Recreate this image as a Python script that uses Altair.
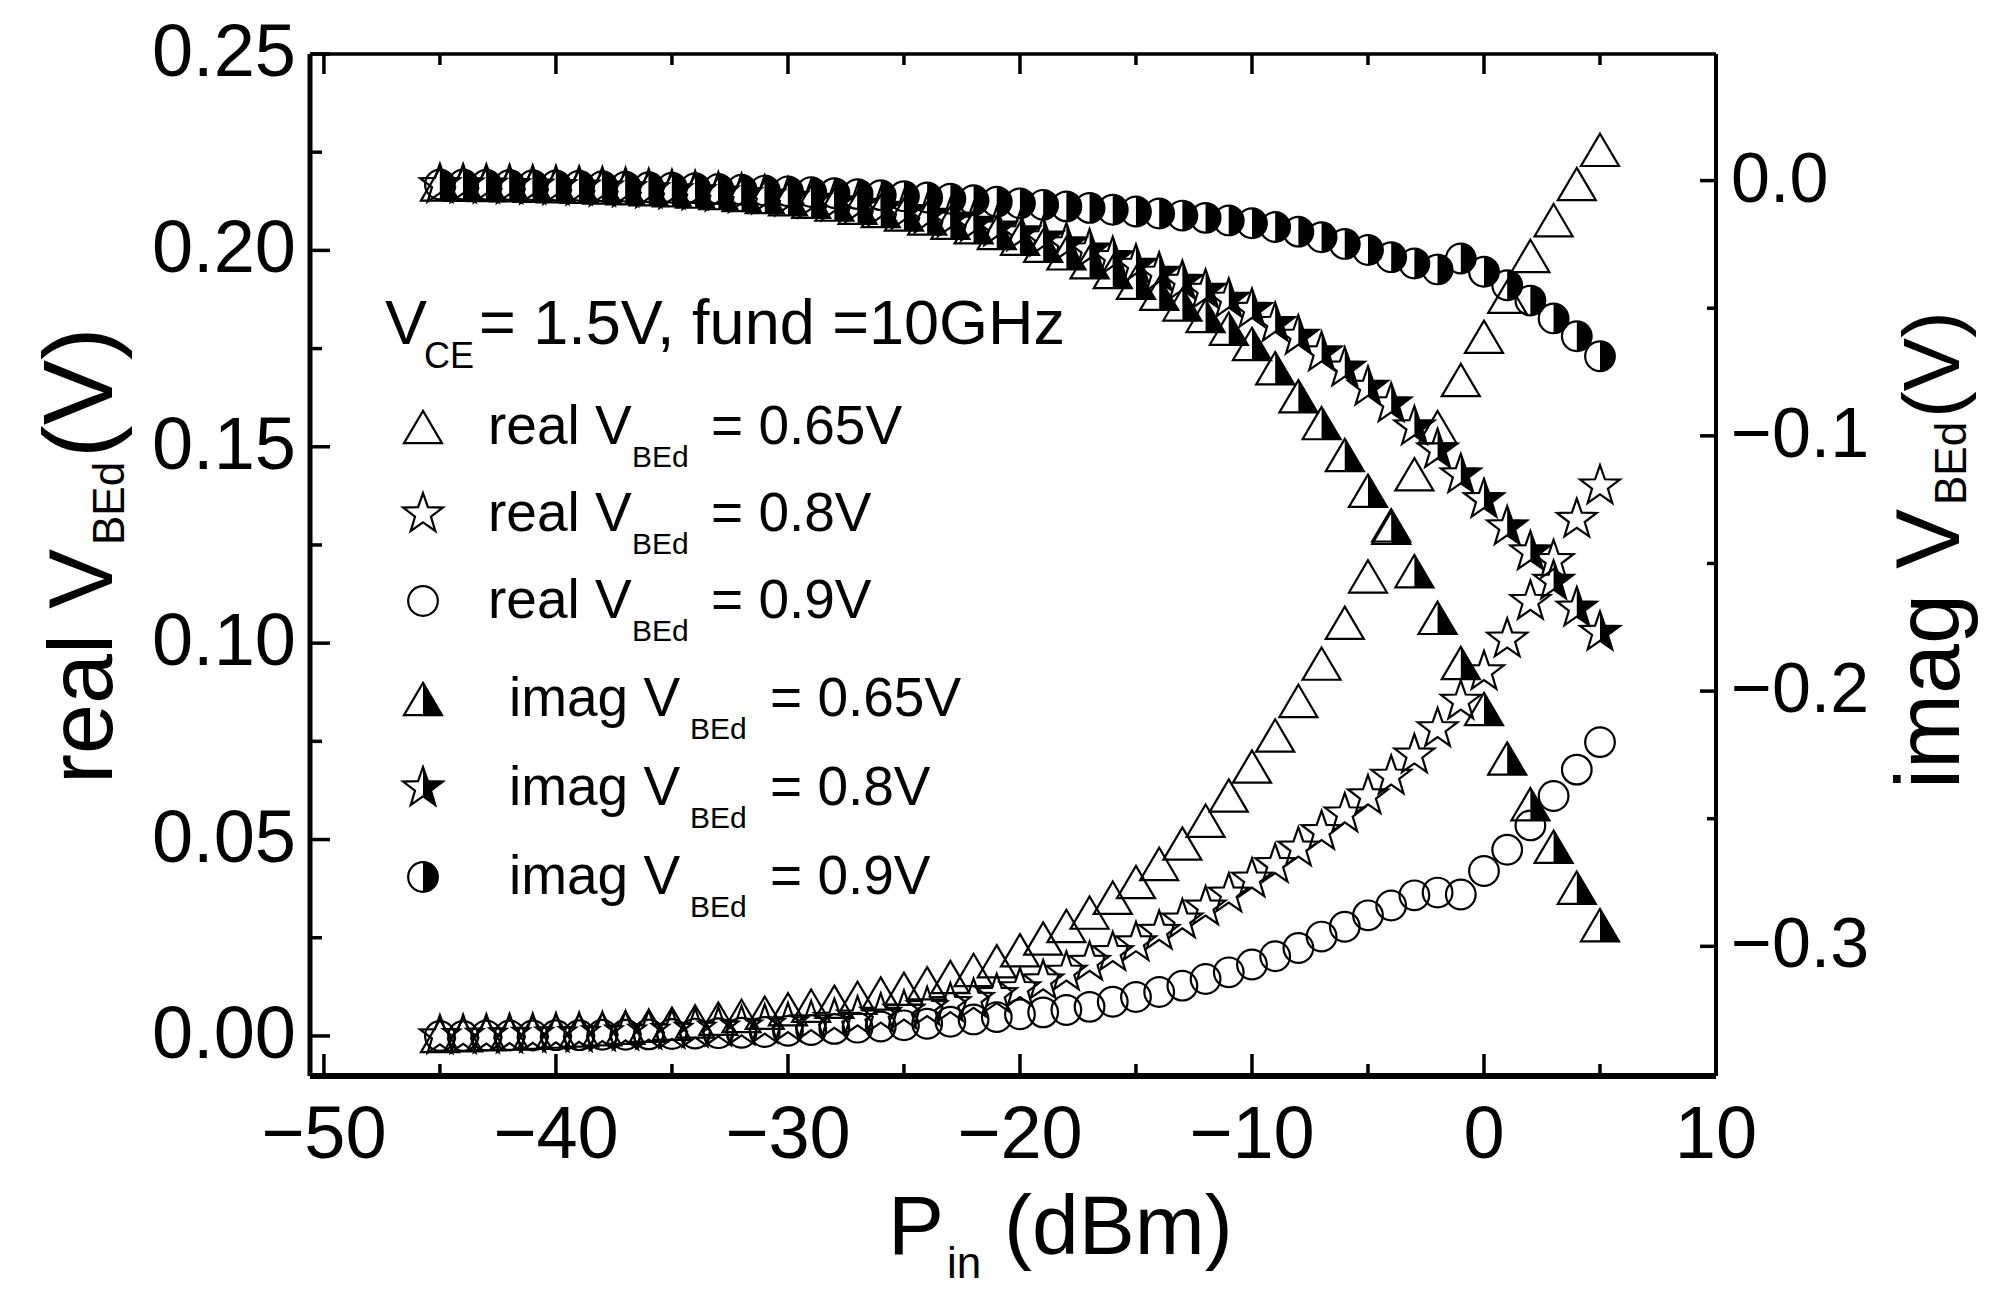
import altair as alt
import pandas as pd

# ---------------- data ----------------
P = list(range(-45, 6))

real_065 = [0.0000, 0.0002, 0.0004, 0.0006, 0.0008, 0.0011, 0.0014, 0.0017, 0.0021, 0.0026,
            0.0031, 0.0037, 0.0044, 0.0051, 0.0059, 0.0068, 0.0077, 0.0087, 0.0097, 0.0108,
            0.0120, 0.0134, 0.0150, 0.0168, 0.0190, 0.0218, 0.0248, 0.0280, 0.0314, 0.0352,
            0.0392, 0.0438, 0.0490, 0.0548, 0.0612, 0.0686, 0.0765, 0.0853, 0.0948, 0.1052,
            0.1170, 0.1300, 0.1430, 0.1550, 0.1670, 0.1780, 0.1882, 0.1986, 0.2077, 0.2169,
            0.2256]

real_08 = [0.0000, 0.0001, 0.0002, 0.0003, 0.0004, 0.0005, 0.0006, 0.0008, 0.0010, 0.0012,
           0.0014, 0.0017, 0.0020, 0.0023, 0.0027, 0.0031, 0.0036, 0.0042, 0.0048, 0.0055,
           0.0063, 0.0072, 0.0082, 0.0093, 0.0105, 0.0120, 0.0140, 0.0162, 0.0187, 0.0212,
           0.0237, 0.0266, 0.0295, 0.0328, 0.0361, 0.0399, 0.0436, 0.0478, 0.0520, 0.0565,
           0.0611, 0.0661, 0.0715, 0.0782, 0.0852, 0.0927, 0.1010, 0.1106, 0.1210, 0.1315,
           0.1400]

real_09 = [0.0000, 0.0000, 0.0001, 0.0001, 0.0001, 0.0002, 0.0002, 0.0003, 0.0003, 0.0004,
           0.0005, 0.0006, 0.0007, 0.0008, 0.0010, 0.0013, 0.0015, 0.0018, 0.0021, 0.0024,
           0.0027, 0.0031, 0.0036, 0.0042, 0.0048, 0.0055, 0.0060, 0.0066, 0.0074, 0.0087,
           0.0099, 0.0112, 0.0128, 0.0145, 0.0162, 0.0182, 0.0203, 0.0224, 0.0253, 0.0278,
           0.0307, 0.0332, 0.0358, 0.0365, 0.0360, 0.0420, 0.0474, 0.0536, 0.0611, 0.0678,
           0.0748]

imag_065 = [-0.0015, -0.0016, -0.0017, -0.0018, -0.0020, -0.0022, -0.0024, -0.0027, -0.0030, -0.0034,
            -0.0038, -0.0043, -0.0049, -0.0056, -0.0064, -0.0073, -0.0083, -0.0094, -0.0106, -0.0119,
            -0.0133, -0.0148, -0.0165, -0.0183, -0.0205, -0.0228, -0.0255, -0.0285, -0.0320, -0.0358,
            -0.0400, -0.0443, -0.0485, -0.0530, -0.0580, -0.0640, -0.0735, -0.0845, -0.0950, -0.1075,
            -0.1215, -0.1360, -0.1530, -0.1713, -0.1890, -0.2070, -0.2264, -0.2443, -0.2610, -0.2770,
            -0.2917]

imag_08 = [-0.0016, -0.0017, -0.0018, -0.0020, -0.0022, -0.0024, -0.0026, -0.0029, -0.0032, -0.0036,
           -0.0040, -0.0044, -0.0049, -0.0055, -0.0061, -0.0069, -0.0077, -0.0087, -0.0097, -0.0109,
           -0.0122, -0.0136, -0.0151, -0.0168, -0.0186, -0.0205, -0.0225, -0.0248, -0.0272, -0.0302,
           -0.0332, -0.0363, -0.0395, -0.0430, -0.0465, -0.0505, -0.0560, -0.0610, -0.0675, -0.0735,
           -0.0810, -0.0875, -0.0965, -0.1055, -0.1153, -0.1250, -0.1357, -0.1455, -0.1570, -0.1675,
           -0.1770]

imag_09 = [-0.0015, -0.0015, -0.0016, -0.0017, -0.0018, -0.0019, -0.0020, -0.0022, -0.0024, -0.0026,
           -0.0028, -0.0030, -0.0033, -0.0036, -0.0039, -0.0042, -0.0045, -0.0049, -0.0053, -0.0057,
           -0.0061, -0.0066, -0.0071, -0.0077, -0.0083, -0.0089, -0.0095, -0.0101, -0.0107, -0.0114,
           -0.0121, -0.0129, -0.0137, -0.0146, -0.0156, -0.0167, -0.0182, -0.0200, -0.0222, -0.0248,
           -0.0272, -0.0300, -0.0325, -0.0348, -0.0305, -0.0357, -0.0410, -0.0470, -0.0540, -0.0610,
           -0.0688]

x_major = [-50, -40, -30, -20, -10, 0, 10]
x_minor = [-45, -35, -25, -15, -5, 5]
yl_major = [0.0, 0.05, 0.10, 0.15, 0.20, 0.25]
yl_minor = [0.025, 0.075, 0.125, 0.175, 0.225]
yr_major = [0.0, -0.1, -0.2, -0.3]
yr_minor = [-0.05, -0.15, -0.25]

# ---------------- layout / style ----------------
W, H = 1406, 1022
FONT = "Liberation Sans"
xs = alt.Scale(domain=[-50.6, 10], nice=False, zero=False)
yls = alt.Scale(domain=[-0.0102, 0.25], nice=False, zero=False)
yrs = alt.Scale(domain=[-0.3508, 0.0496], nice=False, zero=False)

TRI = "M0,-0.85L1,0.85L-1,0.85Z"
TRI_R = "M0,-0.85L1,0.85L0,0.85Z"
CIR = "M-1,0A1,1,0,1,1,1,0A1,1,0,1,1,-1,0Z"
CIR_R = "M0,-1A1,1,0,0,1,0,1Z"
STAR = ("M0,-1L0.235,-0.324L0.951,-0.309L0.38,0.124L0.588,0.809L0,0.4"
        "L-0.588,0.809L-0.38,0.124L-0.951,-0.309L-0.235,-0.324Z")
STAR_R = "M0,-1L0.235,-0.324L0.951,-0.309L0.38,0.124L0.588,0.809L0,0.4Z"
SZ = {"tri": 1444, "cir": 880, "star": 1750}

dummy = pd.DataFrame({"d": [0]})


def sdf(vals):
    return pd.DataFrame({"P": P, "v": vals})


def pts(df, shape, size, yscale, filled=False):
    return alt.Chart(df).mark_point(
        shape=shape, size=size, filled=filled, color="black",
        strokeWidth=2.2, opacity=1
    ).encode(
        x=alt.X("P:Q", scale=xs, axis=None),
        y=alt.Y("v:Q", scale=yscale, axis=None),
    )


def txt(s, cx, cy, size, angle=None):
    kw = dict(text=s, font=FONT, fontSize=size, align="left",
              baseline="alphabetic", color="black")
    if angle is not None:
        kw["angle"] = angle
    return alt.Chart(dummy).mark_text(**kw).encode(x=alt.value(cx), y=alt.value(cy))


def sym(shape, size, cx, cy, filled=False):
    return alt.Chart(dummy).mark_point(
        shape=shape, size=size, filled=filled, color="black",
        strokeWidth=2.2, opacity=1
    ).encode(x=alt.value(cx), y=alt.value(cy))


def frame(x, x2, y, y2, w):
    return alt.Chart(dummy).mark_rule(color="black", strokeWidth=w).encode(
        x=alt.value(x), x2=alt.value(x2), y=alt.value(y), y2=alt.value(y2))


def xticks(vals, y, y2):
    return alt.Chart(pd.DataFrame({"P": vals})).mark_rule(color="black", strokeWidth=3.5).encode(
        x=alt.X("P:Q", scale=xs, axis=None), y=alt.value(y), y2=alt.value(y2))


def yticks(vals, yscale, x, x2):
    return alt.Chart(pd.DataFrame({"v": vals})).mark_rule(color="black", strokeWidth=3.5).encode(
        y=alt.Y("v:Q", scale=yscale, axis=None), x=alt.value(x), x2=alt.value(x2))


# tick labels drawn through the scales
x_labels = alt.Chart(pd.DataFrame({"P": x_major})).mark_text(
    font=FONT, fontSize=74, align="center", baseline="middle", color="black"
).encode(x=alt.X("P:Q", scale=xs, axis=None), y=alt.value(H + 60),
         text=alt.Text("P:Q", format="d"))

yl_labels = alt.Chart(pd.DataFrame({"v": yl_major})).mark_text(
    font=FONT, fontSize=74, align="right", baseline="middle", color="black"
).encode(y=alt.Y("v:Q", scale=yls, axis=None), x=alt.value(-14),
         text=alt.Text("v:Q", format=".2f"))

yr_labels = alt.Chart(pd.DataFrame({"v": yr_major})).mark_text(
    font=FONT, fontSize=70, align="left", baseline="middle", color="black"
).encode(y=alt.Y("v:Q", scale=yrs, axis=None), x=alt.value(W + 15),
         text=alt.Text("v:Q", format=".1f"))

# ---------------- left (real) group ----------------
left_layers = [
    pts(sdf(real_065), TRI, SZ["tri"], yls),
    pts(sdf(real_08), STAR, SZ["star"], yls),
    pts(sdf(real_09), CIR, SZ["cir"], yls),
    x_labels, yl_labels,
    # ticks (inward)
    xticks(x_major, H, H - 22), xticks(x_minor, H, H - 12),
    xticks(x_major, 0, 20), xticks(x_minor, 0, 11),
    yticks(yl_major, yls, 0, 20), yticks(yl_minor, yls, 0, 12),
    # frame
    frame(0, 0, 0, H, 5), frame(W, W, 0, H, 4),
    frame(0, W, 0, 0, 3.5), frame(0, W, H, H, 6),
    # axis titles
    txt("real V", -198, 730, 90, 270), txt("BEd", -186, 491, 44, 270), txt("(V)", -198, 404, 98, 270),
    txt("imag V", 1649, 735, 90, 270), txt("BEd", 1656, 451, 44, 270), txt("(V)", 1649, 364, 80, 270),
    txt("P", 578, 1200, 84), txt("in", 637, 1224, 44), txt("(dBm)", 694, 1200, 84),
    # legend title
    txt("V", 75, 290, 63), txt("CE", 114, 314, 36), txt("= 1.5V, fund =10GHz", 169, 290, 63),
]

legend_rows = [
    ("real V", "= 0.65V", TRI, None, SZ["tri"]),
    ("real V", "= 0.8V", STAR, None, SZ["star"]),
    ("real V", "= 0.9V", CIR, None, SZ["cir"]),
    ("imag V", "= 0.65V", TRI, TRI_R, SZ["tri"]),
    ("imag V", "= 0.8V", STAR, STAR_R, SZ["star"]),
    ("imag V", "= 0.9V", CIR, CIR_R, SZ["cir"]),
]
bases = [390, 477, 564, 662, 751, 840]
for (lab, val, shp, half, size), b in zip(legend_rows, bases):
    left_layers.append(sym(shp, size, 113, b - 17))
    if half is not None:
        left_layers.append(sym(half, size, 113, b - 17, filled=True))
    if lab.startswith("real"):
        left_layers += [txt(lab, 178, b, 55), txt("BEd", 322, b + 23, 30), txt(val, 401, b, 55)]
    else:
        left_layers += [txt(lab, 199, b, 55), txt("BEd", 380, b + 23, 30), txt(val, 460, b, 55)]

left = alt.layer(*left_layers)

# ---------------- right (imag) group ----------------
right = alt.layer(
    pts(sdf(imag_065), TRI, SZ["tri"], yrs),
    pts(sdf(imag_065), TRI_R, SZ["tri"], yrs, filled=True),
    pts(sdf(imag_08), STAR, SZ["star"], yrs),
    pts(sdf(imag_08), STAR_R, SZ["star"], yrs, filled=True),
    pts(sdf(imag_09), CIR, SZ["cir"], yrs),
    pts(sdf(imag_09), CIR_R, SZ["cir"], yrs, filled=True),
    yticks(yr_major, yrs, W - 16, W),
    yticks(yr_minor, yrs, W - 9, W),
    yr_labels,
)

chart = alt.layer(left, right).resolve_scale(y="independent").properties(
    width=W, height=H,
    autosize=alt.AutoSizeParams(type="none"),
    padding={"left": 302, "top": 46, "right": 263, "bottom": 216},
    background="white",
).configure_view(stroke=None)

chart.save("out.html", embed_options={"renderer": "svg", "actions": False})
